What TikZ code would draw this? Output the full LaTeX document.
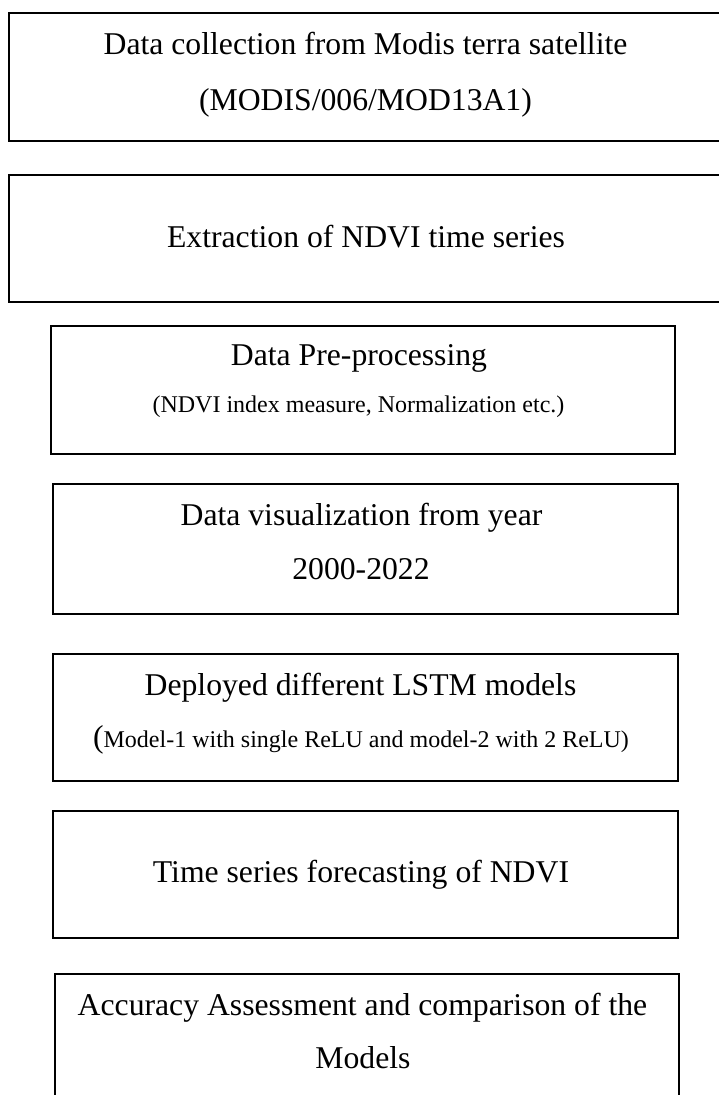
\documentclass[tikz,border=0pt]{standalone}
\usepackage{fontspec}
\setmainfont{Liberation Serif}
\tikzset{
  stage/.style={draw=black, line width=1.8pt, rectangle, inner sep=0pt},
  big/.style={anchor=base, inner sep=0pt, font=\fontsize{31.7}{38}\selectfont},
  small/.style={anchor=base, inner sep=0pt, font=\fontsize{24}{29}\selectfont},
}
\begin{document}
\begin{tikzpicture}[x=1pt,y=-1pt]
\useasboundingbox (0,0) rectangle (718,1095);
\fill[white] (0,0) rectangle (718,1095);

% stage frames
\node[stage, minimum width=714pt, minimum height=128pt] (b1) at (366,77) {};
\node[stage, minimum width=714pt, minimum height=127pt] (b2) at (366,238.5) {};
\node[stage, minimum width=624pt, minimum height=128pt] (b3) at (363,390) {};
\node[stage, minimum width=625pt, minimum height=130pt] (b4) at (365.5,549) {};
\node[stage, minimum width=625pt, minimum height=127pt] (b5) at (365.5,717.5) {};
\node[stage, minimum width=625pt, minimum height=127pt] (b6) at (365.5,874.5) {};
\node[stage, minimum width=624pt, minimum height=131pt] (b7) at (367,1039.5) {};

% stage captions
\node[big] (t1a) at (365.5,54) {Data collection from Modis terra satellite};
\node[big] (t1b) at (365.5,110) {(MODIS/006/MOD13A1)};
\node[big] (t2) at (366,247) {Extraction of NDVI time series};
\node[big] (t3a) at (359,365.5) {Data Pre-processing};
\node[small] (t3b) at (358.5,412.5) {(NDVI index measure, Normalization etc.)};
\node[big] (t4a) at (361.5,525) {Data visualization from year};
\node[big] (t4b) at (361,579) {2000-2022};
\node[big] (t5a) at (360.5,695) {Deployed different LSTM models};
\node[small] (t5b) at (361,747) {{\fontsize{31.7}{38}\selectfont(}Model-1 with single ReLU and model-2 with 2 ReLU)};
\node[big] (t6) at (361,882.5) {Time series forecasting of NDVI};
\node[big] (t7a) at (362.5,1015.5) {Accuracy Assessment and comparison of the};
\node[big] (t7b) at (363,1068) {Models};
\end{tikzpicture}
\end{document}
